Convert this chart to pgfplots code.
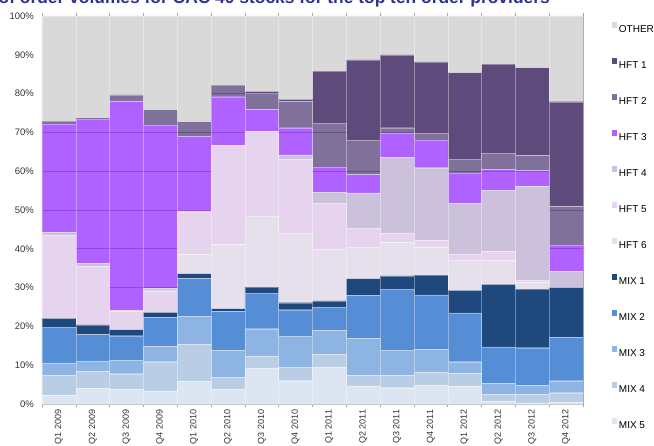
\documentclass[border=0pt]{standalone}
\usepackage{fontspec}
\setmainfont{Liberation Sans}
\usepackage{pgfplots}
\usepackage{pgfplotstable}
\pgfplotsset{compat=1.18}

\definecolor{cOTHER}{RGB}{217,217,217}
\definecolor{cHFTa}{RGB}{95,75,123}
\definecolor{cHFTb}{RGB}{106,88,136}
\definecolor{cHFTc}{RGB}{161,70,255}
\definecolor{cHFTd}{RGB}{204,193,218}
\definecolor{cHFTe}{RGB}{230,211,238}
\definecolor{cHFTf}{RGB}{230,224,236}
\definecolor{cMIXa}{RGB}{31,73,125}
\definecolor{cMIXb}{RGB}{85,142,213}
\definecolor{cMIXc}{RGB}{142,180,227}
\definecolor{cMIXd}{RGB}{185,205,229}
\definecolor{cMIXe}{RGB}{220,230,242}
\definecolor{titleblue}{RGB}{46,49,146}
\definecolor{axgray}{RGB}{166,166,166}

% share of order volume (%) per quarter, stacked bottom to top
\pgfplotstableread{
x  mix5 mix4 mix3 mix2 mix1 hft6 hft5 hft4 hft3 hft2 hft1 other
1  2.2  5.1  3.3  9.2  2.3  0    21.3 0.9  27.9 0.7  0    27.1
2  4.0  4.4  2.7  6.8  2.5  0    15.1 0.7  37.2 0.4  0    26.2
3  3.7  4.1  3.5  6.3  1.6  0    4.7  0.3  53.8 1.7  0    20.3
4  3.2  7.7  3.9  7.5  1.3  0    5.6  0.6  42.1 4.0  0    24.1
5  5.8  9.5  7.3  9.7  1.3  4.9  11.0 0.3  19.2 3.8  0    27.2
6  3.9  2.9  7.0  10.1 0.7  16.5 25.6 0    12.5 3.0  0    17.8
7  9.3  3.0  7.1  9.2  1.5  18.3 21.8 0    5.7  4.2  0.5  19.4
8  6.0  3.5  8.0  6.8  1.8  18.0 18.9 1.2  7.0  6.8  0.5  21.5
9  9.6  3.2  6.2  6.0  1.6  13.2 12.0 2.8  6.5  11.3 13.4 14.2
10 4.7  2.7  9.5  11.1 4.3  8.2  4.8  9.1  4.7  9.0  20.6 11.3
11 4.2  3.1  6.6  15.7 3.4  8.6  2.5  19.5 6.3  1.3  18.8 10.0
12 4.9  3.2  6.0  14.0 5.1  7.1  1.9  18.7 7.2  1.8  18.3 11.8
13 4.5  3.4  3.0  12.6 5.8  7.8  1.6  13.1 7.7  3.6  22.3 14.6
14 0.6  1.9  2.8  9.4  16.1 6.2  2.3  15.7 5.5  4.2  22.9 12.4
15 0.3  2.1  2.4  9.7  15.1 1.7  0.6  24.2 4.1  3.8  22.7 13.3
16 0.5  2.4  3.1  11.1 12.9 0    0    4.1  6.9  9.9  27.0 22.1
}\shares

\begin{document}
\begin{tikzpicture}
\begin{axis}[
    at={(0pt,0pt)}, anchor=south west,
    scale only axis, width=541pt, height=388pt,
    ybar stacked, bar width=1,
    xmin=0.5, xmax=16.5, ymin=0, ymax=100,
    axis line style={draw=axgray, line width=0.8pt},
    ytick={0,10,...,100},
    yticklabel={\pgfmathprintnumber{\tick}\%},
    xtick={1,...,16},
    xticklabels={Q1 2009,Q2 2009,Q3 2009,Q4 2009,Q1 2010,Q2 2010,Q3 2010,Q4 2010,
                 Q1 2011,Q2 2011,Q3 2011,Q4 2011,Q1 2012,Q2 2012,Q3 2012,Q4 2012},
    minor xtick={0.5,1.5,...,16.5},
    major tick length=0pt, minor tick length=3pt, tick align=outside,
    minor tick style={draw=axgray, line width=0.6pt},
    ymajorgrids, grid style={draw=black!70, line width=0.8pt},
    /pgf/number format/assume math mode=true,
    ticklabel style={text=black!80, inner sep=0pt},
    yticklabel style={font=\fontsize{9.5}{10}\selectfont},
    yticklabel shift=8pt,
    xticklabel style={rotate=90, anchor=east, font=\fontsize{9}{10}\selectfont},
    xticklabel shift=5.5pt,
    reverse legend,
    legend style={at={(1.0531,0.984)}, anchor=north west, draw=none, fill=none,
        inner sep=0pt, outer sep=0pt, row sep=26.0pt, column sep=1.7pt,
        font=\fontsize{10}{11}\selectfont,
        nodes={inner sep=0pt, text height=7.2pt, text depth=0pt}},
    legend cell align=left,
    legend image code/.code={\fill[#1,draw=none] (0pt,0.7pt) rectangle (5.5pt,6.4pt);},
    every axis plot/.append style={draw=white, draw opacity=0.35, line width=0.4pt},
]
\addplot[fill=cMIXe] table[x=x,y=mix5]{\shares};
\addplot[fill=cMIXd] table[x=x,y=mix4]{\shares};
\addplot[fill=cMIXc] table[x=x,y=mix3]{\shares};
\addplot[fill=cMIXb] table[x=x,y=mix2]{\shares};
\addplot[fill=cMIXa] table[x=x,y=mix1]{\shares};
\addplot[fill=cHFTf] table[x=x,y=hft6]{\shares};
\addplot[fill=cHFTe] table[x=x,y=hft5]{\shares};
\addplot[fill=cHFTd] table[x=x,y=hft4]{\shares};
\addplot[fill=cHFTc, fill opacity=0.85] table[x=x,y=hft3]{\shares};
\addplot[fill=cHFTb, fill opacity=0.85] table[x=x,y=hft2]{\shares};
\addplot[fill=cHFTa] table[x=x,y=hft1]{\shares};
\addplot[fill=cOTHER] table[x=x,y=other]{\shares};
\legend{MIX 5,MIX 4,MIX 3,MIX 2,MIX 1,HFT 6,HFT 5,HFT 4,HFT 3,HFT 2,HFT 1,OTHER}
\end{axis}
\node[anchor=base east, inner sep=0pt, text=titleblue,
      font=\bfseries\fontsize{17.4}{19}\selectfont] at (508pt,400.7pt)
      {Share of order volumes for CAC 40 stocks for the top ten order providers};
\pgfresetboundingbox
\useasboundingbox (-42pt,-41pt) rectangle (612pt,404pt);
\end{tikzpicture}
\end{document}
